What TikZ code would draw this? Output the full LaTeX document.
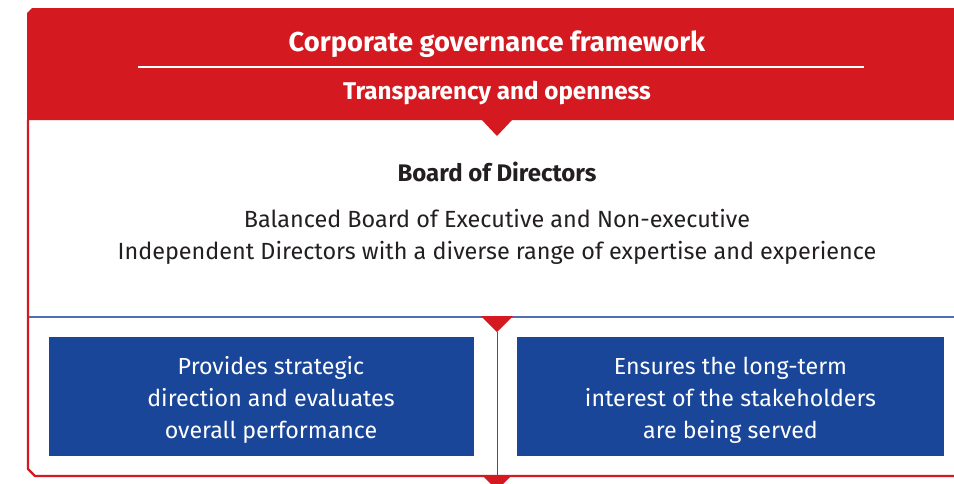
\documentclass[tikz,border=0pt]{standalone}
\usepackage{fontspec}
\setmainfont{Fira Sans}
\definecolor{cgred}{HTML}{D51920}
\definecolor{cgblue}{HTML}{1A4699}
\definecolor{cgline}{HTML}{4F6FB5}
\definecolor{cgtext}{HTML}{231F20}
\tikzset{
  bluebox/.style={fill=cgblue,draw=none},
  boxtext/.style={text=white,align=center,font=\fontsize{23.2}{32}\selectfont},
  redtri/.style={fill=cgred,draw=none},
}
\begin{document}
\begin{tikzpicture}[x=1pt,y=-1pt]
\useasboundingbox (0,0) rectangle (954,483);
% header
\fill[cgred] (27,13) -- (32,8) -- (954,8) -- (954,120) -- (27,120) -- cycle;
\node[text=white,font=\bfseries\fontsize{27.3}{30}\selectfont] (title) at (497,44) {Corporate governance framework};
\coordinate (ul1) at (138,67);
\coordinate (ul2) at (864,67);
\draw[white,line width=1.2pt] (ul1) -- (ul2);
\node[text=white,font=\bfseries\fontsize{24.2}{28}\selectfont] (sub) at (497,93) {Transparency and openness};
% frame
\coordinate (f1) at (28,120);
\coordinate (f2) at (28,469);
\coordinate (f3) at (35,476);
\coordinate (f4) at (954,476);
\draw[cgred,line width=2.4pt] (f1) -- (f2) -- (f3) -- (f4);
% top triangle
\fill[redtri] (481,119) -- (513,119) -- (497,136) -- cycle;
% board text
\node[text=cgtext,font=\bfseries\fontsize{24}{28}\selectfont] (board) at (497,172) {Board of Directors};
\node[text=cgtext,align=center,font=\fontsize{23.4}{32}\selectfont] (desc) at (497,236.5) {Balanced Board of Executive and Non-executive\\Independent Directors with a diverse range of expertise and experience};
% blue separator
\coordinate (b1) at (29,317);
\coordinate (b2) at (954,317);
\draw[cgline,line width=1.3pt] (b1) -- (b2);
\fill[redtri] (481,316) -- (513,316) -- (497,332) -- cycle;
\coordinate (v1) at (497,332);
\coordinate (v2) at (497,476);
\draw[cgred,line width=0.8pt] (v1) -- (v2);
\fill[redtri] (483,476) -- (511,476) -- (497,490) -- cycle;
% blue boxes
\fill[bluebox] (49,337) rectangle (474,456);
\node[boxtext] (left) at (271,400) {Provides strategic\\direction and evaluates\\overall performance};
\fill[bluebox] (517,337) rectangle (944,456);
\node[boxtext] (right) at (730.5,400) {Ensures the long-term\\interest of the stakeholders\\are being served};
\end{tikzpicture}
\end{document}
